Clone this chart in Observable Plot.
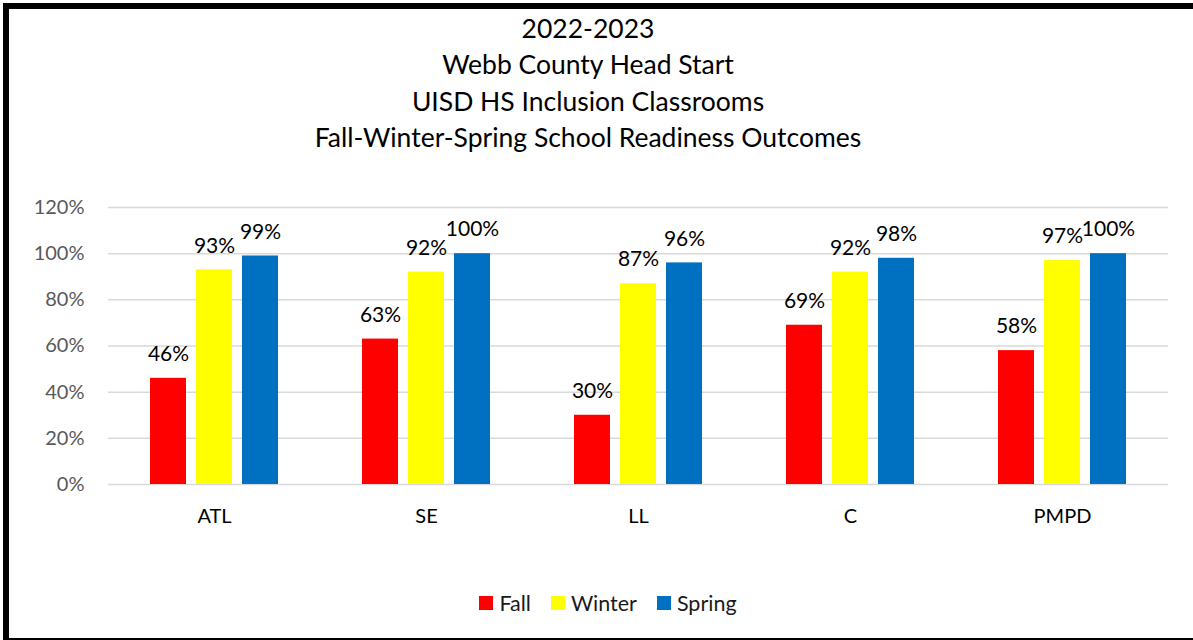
<!DOCTYPE html>
<html>
<head>
<meta charset="utf-8">
<script src="https://cdn.jsdelivr.net/npm/d3@7"></script>
<script src="https://cdn.jsdelivr.net/npm/@observablehq/plot@0.6"></script>
<style>
  html, body { margin: 0; padding: 0; background: #fff; width: 1193px; height: 640px; overflow: hidden; }
  body { position: relative; font-family: Lato, "Open Sans", sans-serif; }
  #frame { position: absolute; left: 3px; top: 3px; width: 1250px; height: 629px;
           border-left: 6px solid #000; border-top: 6px solid #000; border-bottom: 2px solid #000; }
  #title { position: absolute; left: 0; top: 10px; width: 1176px; text-align: center;
           font-size: 26.5px; line-height: 36.3px; color: #000; }
  #chart { position: absolute; left: 0; top: 0; }
  #legend { position: absolute; left: 0; width: 1216px; top: 589px; display: flex; justify-content: center;
            font-size: 21.5px; color: #1a1a1a; line-height: 28px; }
  .item { display: flex; align-items: center; margin: 0 10px; }
  .sw { width: 14px; height: 14px; margin-right: 6px; }
</style>
</head>
<body>
<div id="frame"></div>
<div id="title"></div>
<div id="chart"></div>
<div id="legend"></div>
<script>
const titleLines = ["2022-2023", "Webb County Head Start", "UISD HS Inclusion Classrooms", "Fall-Winter-Spring School Readiness Outcomes"];
const categories = ["ATL", "SE", "LL", "C", "PMPD"];
const seriesNames = ["Fall", "Winter", "Spring"];
const seriesColors = ["#FF0000", "#FFFF00", "#0070C0"];
const fall   = [0.46, 0.63, 0.30, 0.69, 0.58];
const winter = [0.93, 0.92, 0.87, 0.92, 0.97];
const spring = [0.99, 1.00, 0.96, 0.98, 1.00];
const yTicks = [0, 0.2, 0.4, 0.6, 0.8, 1.0, 1.2];

const seriesValues = [fall, winter, spring];
const data = [];
categories.forEach((c, i) => {
  seriesNames.forEach((s, j) => data.push({cat: c, series: s, value: seriesValues[j][i]}));
});

document.getElementById("title").innerHTML = titleLines.map(t => `<div>${t}</div>`).join("");

const fmt = d3.format(".0%");
const chart = Plot.plot({
  width: 1193,
  height: 560,
  marginLeft: 106,
  marginRight: 24,
  marginTop: 207,
  marginBottom: 76,
  style: {fontFamily: "Lato, 'Open Sans', sans-serif", background: "transparent"},
  facet: {marginLeft: 0, marginRight: 0, marginTop: 0, marginBottom: 0},
  fx: {domain: categories, padding: 0, label: null},
  x: {domain: seriesNames, paddingInner: 0.213, paddingOuter: 0.868, axis: null},
  y: {domain: [0, 1.2], label: null},
  color: {domain: seriesNames, range: seriesColors},
  marks: [
    Plot.gridY(yTicks, {stroke: "#d9d9d9", strokeOpacity: 1, strokeWidth: 1.5}),
    Plot.axisY(yTicks, {tickSize: 0, tickPadding: 24, fontSize: 20, fill: "#595959", tickFormat: fmt, label: null}),
    Plot.axisFx({anchor: "bottom", tickSize: 0, tickPadding: 24, fontSize: 20, fill: "#000", label: null}),
    Plot.barY(data, {fx: "cat", x: "series", y: "value", fill: "series"}),
    Plot.text(data, {fx: "cat", x: "series", y: "value", text: d => fmt(d.value), dy: -24, fontSize: 21, fill: "#000"})
  ]
});
document.getElementById("chart").appendChild(chart);

document.getElementById("legend").innerHTML = seriesNames.map((s, i) =>
  `<div class="item"><div class="sw" style="background:${seriesColors[i]}"></div><span>${s}</span></div>`).join("");
</script>
</body>
</html>
